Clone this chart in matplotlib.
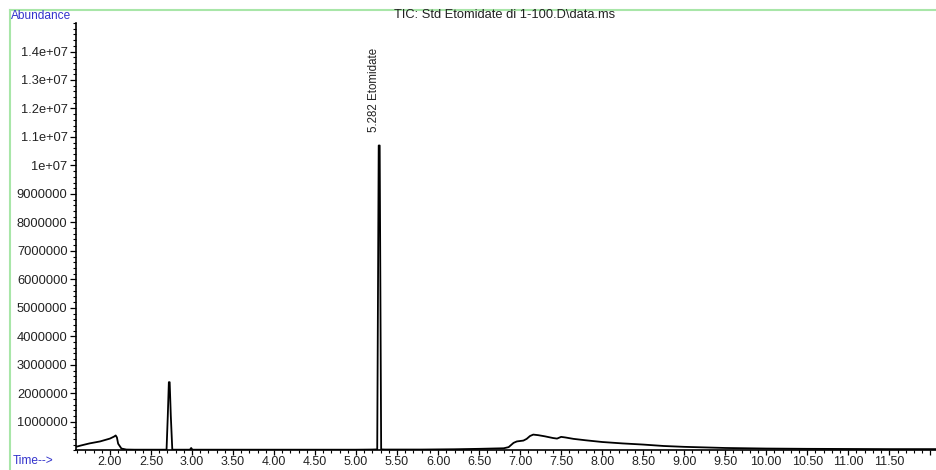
import matplotlib
matplotlib.use("Agg")
import matplotlib.pyplot as plt
from matplotlib.lines import Line2D
from matplotlib.ticker import MultipleLocator, FuncFormatter

plt.rcParams['font.family'] = ['Liberation Sans', 'DejaVu Sans']

# retention time (min) and abundance
time = [1.585, 1.65, 1.75, 1.88, 2.00, 2.05, 2.07, 2.085, 2.10, 2.14, 2.20, 2.30,
        2.50, 2.69, 2.705, 2.718, 2.728, 2.742, 2.76, 2.90, 2.975, 2.99, 3.005,
        3.03, 3.50, 4.00, 4.50, 5.00, 5.20, 5.258, 5.276, 5.288, 5.306, 5.35,
        5.80, 6.20, 6.50, 6.80, 6.86, 6.92, 6.96, 7.04, 7.08, 7.12, 7.16, 7.22,
        7.30, 7.40, 7.45, 7.50, 7.55, 7.65, 7.80, 8.00, 8.25, 8.50, 8.75, 9.00,
        9.50, 10.00, 10.50, 11.00, 11.50, 12.07]
abundance = [120000, 170000, 240000, 310000, 410000, 480000, 520000, 450000, 230000,
             60000, 25000, 20000,
             20000, 20000, 1200000, 2390000, 2390000, 1200000, 20000, 20000, 20000,
             80000, 20000,
             20000, 20000, 20000, 20000, 20000, 25000, 30000, 10700000, 10700000, 30000,
             25000,
             25000, 35000, 50000, 70000, 110000, 260000, 310000, 340000, 400000,
             500000, 550000, 530000,
             490000, 430000, 410000, 470000, 450000, 400000, 350000, 290000, 240000,
             200000, 150000, 120000,
             80000, 60000, 50000, 45000, 40000, 40000]

peak_time = 5.282
peak_height = 10700000
peak_name = "Etomidate"

fig = plt.figure(figsize=(9.37, 4.70), dpi=100)
ax = fig.add_axes([0.081, 0.042, 0.918, 0.909])

ax.plot(time, abundance, color='black', linewidth=1.3)

ax.set_xlim(1.585, 12.07)
ax.set_ylim(0, 15000000)

ax.xaxis.set_major_locator(MultipleLocator(0.5))
ax.xaxis.set_minor_locator(MultipleLocator(0.1))
ax.xaxis.set_major_formatter(FuncFormatter(lambda v, p: "%.2f" % v if 1.9 < v < 11.9 else ""))

ax.set_yticks(range(1000000, 14000001, 1000000))
ax.yaxis.set_minor_locator(MultipleLocator(200000))

def ylab(v, p):
    if v >= 10000000:
        return "%ge+07" % (v / 1e7)
    return "%d" % v
ax.yaxis.set_major_formatter(FuncFormatter(ylab))

ax.tick_params(axis='y', which='major', labelsize=9.3, length=4, width=0.9, pad=2,
               labelcolor='#222222')
ax.tick_params(axis='x', which='major', labelsize=9.0, length=3.5, width=0.9, pad=0.5,
               labelcolor='#222222')
ax.tick_params(axis='both', which='minor', length=2.2, width=0.8)

for s in ['top', 'right']:
    ax.spines[s].set_visible(False)
for s in ['left', 'bottom']:
    ax.spines[s].set_linewidth(1.2)

ax.annotate("%.3f %s" % (peak_time, peak_name), xy=(peak_time, peak_height),
            xytext=(-4, 10), textcoords='offset points', rotation=90,
            ha='center', va='bottom', fontsize=8.3, color='#222222')

# instrument frame and labels
fig.add_artist(Line2D([0.011, 1.0], [0.979, 0.979], color='#a8e6a8', linewidth=1.5))
fig.add_artist(Line2D([0.011, 0.011], [0.0, 0.979], color='#a8e6a8', linewidth=1.5))
fig.text(0.012, 0.966, "Abundance", color='#3333cc', fontsize=8.6, va='center')
fig.text(0.014, 0.019, "Time-->", color='#3333cc', fontsize=8.6, va='center')
fig.text(0.539, 0.968, "TIC: Std Etomidate di 1-100.D\\data.ms", fontsize=9.3,
         ha='center', va='center', color='#222222')

plt.savefig('out.png', dpi=100)
